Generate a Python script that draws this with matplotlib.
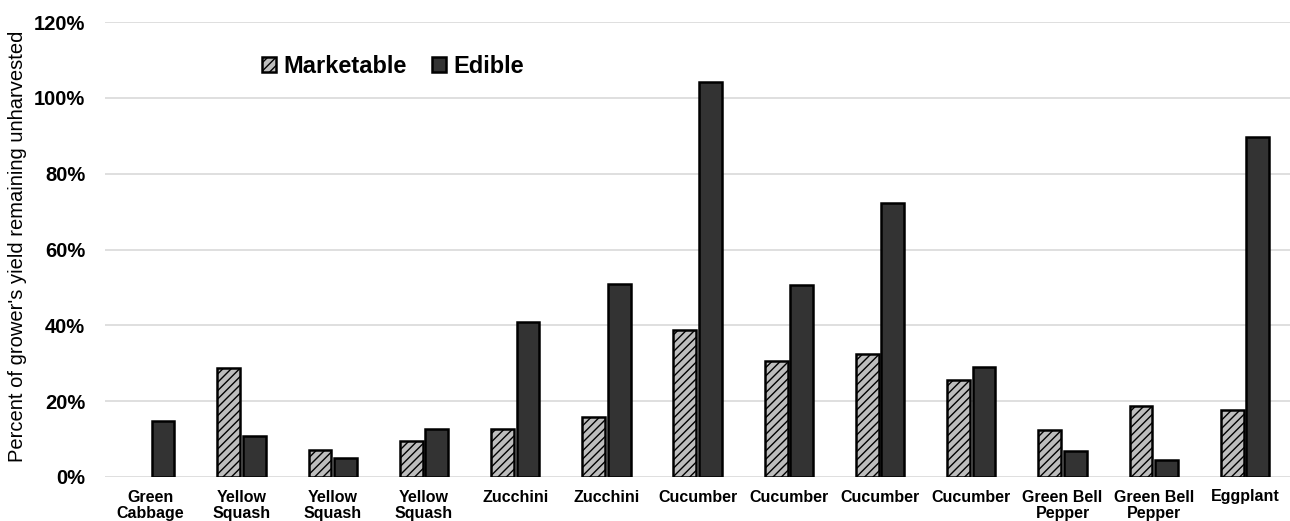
import matplotlib
matplotlib.use("Agg")
import matplotlib.pyplot as plt
import numpy as np

categories = ["Green\nCabbage", "Yellow\nSquash", "Yellow\nSquash", "Yellow\nSquash",
              "Zucchini", "Zucchini", "Cucumber", "Cucumber", "Cucumber", "Cucumber",
              "Green Bell\nPepper", "Green Bell\nPepper", "Eggplant"]
marketable = [0.0, 28.8, 7.1, 9.5, 12.7, 15.8, 38.8, 30.6, 32.5, 25.6, 12.4, 18.7, 17.7]
edible = [14.8, 10.8, 5.0, 12.7, 40.9, 50.9, 104.2, 50.7, 72.3, 29.0, 6.9, 4.5, 89.7]
yticks = [0, 20, 40, 60, 80, 100, 120]

plt.rcParams['font.family'] = ['Liberation Sans', 'DejaVu Sans']
plt.rcParams['hatch.linewidth'] = 1.0

fig = plt.figure(figsize=(12.9, 5.21), dpi=100)
ax = fig.add_axes([104.7/1290, 1 - 477/521, 1185.9/1290, 455/521])

x = np.arange(len(categories))
w = 0.25
off = 0.14
mx = [xi - off for xi, m in zip(x, marketable) if m > 0]
mv = [m for m in marketable if m > 0]
ax.bar(mx, mv, width=w, facecolor='#bdbdbd', edgecolor='black', hatch='////',
       linewidth=1.8, label='Marketable', zorder=3)
ax.bar(x + off, edible, width=w, facecolor='#333333', edgecolor='black',
       linewidth=1.8, label='Edible', zorder=3)

ax.set_xlim(-0.5, len(categories) - 0.5)
ax.set_ylim(0, 120)
ax.set_yticks(yticks)
ax.set_yticklabels([f"{t}%" for t in yticks], fontsize=14.5, fontweight='bold')
ax.set_xticks(x)
ax.set_xticklabels(categories, fontsize=11.5, fontweight='bold', linespacing=1.1)
ax.tick_params(axis='both', length=0)
ax.tick_params(axis='y', pad=14)
ax.tick_params(axis='x', pad=9)
ax.grid(axis='y', color='#d9d9d9', linewidth=1.2, zorder=0)
for s in ax.spines.values():
    s.set_visible(False)
ax.set_ylabel("Percent of grower's yield remaining unharvested", fontsize=14.5)
ax.yaxis.set_label_coords(-0.0655, 0.508)

leg = ax.legend(loc='center', bbox_to_anchor=(0.243, 0.903), ncol=2, frameon=False,
                prop={'weight': 'bold', 'size': 17}, handlelength=0.6, handleheight=0.6,
                handletextpad=0.3, columnspacing=1.05)

fig.savefig("out.png", dpi=100)
